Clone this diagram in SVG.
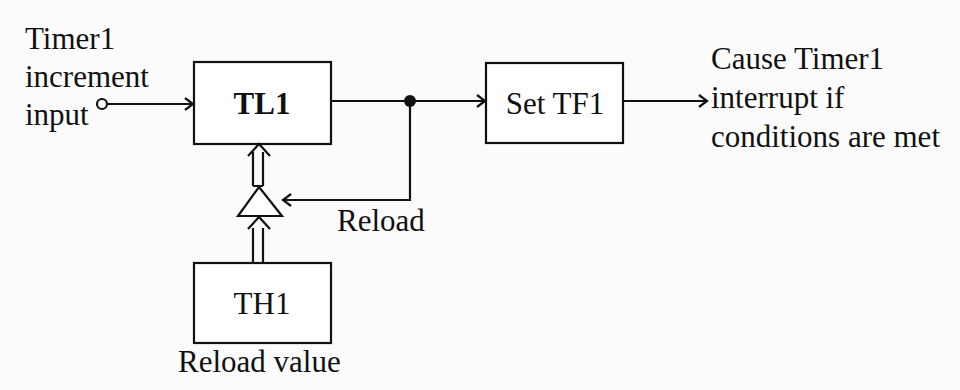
<svg xmlns="http://www.w3.org/2000/svg" width="960" height="390" viewBox="0 0 960 390">
<defs>
<style>
.ln{stroke:#111;stroke-width:2.2;fill:none}
.box{stroke:#111;stroke-width:2.2;fill:#fff}
.t{font-family:"Liberation Serif","Times New Roman",serif;font-size:31px;fill:#111}
.b{font-weight:bold}
.c{text-anchor:middle}
</style>
<marker id="ah" markerWidth="12" markerHeight="14" refX="10" refY="7" orient="auto" markerUnits="userSpaceOnUse">
<path d="M2,1 L10,7 L2,13" fill="none" stroke="#111" stroke-width="2.2"/>
</marker>
</defs>
<rect width="960" height="390" fill="#fbfbfb"/>
<g id="input-label">
<text class="t" x="25" y="49">Timer1</text>
<text class="t" x="25" y="87">increment</text>
<text class="t" x="25" y="125">input</text>
</g>
<g id="TL1">
<rect class="box" x="194" y="62" width="137" height="82"/>
<text class="t b c" x="262" y="114">TL1</text>
</g>
<g id="SetTF1">
<rect class="box" x="486" y="63" width="137" height="80"/>
<text class="t c" x="555" y="114">Set TF1</text>
</g>
<g id="TH1">
<rect class="box" x="194" y="263" width="137" height="80"/>
<text class="t c" x="262" y="314">TH1</text>
</g>
<g id="buffer">
<polygon class="box" points="259,187 282,216 238,216"/>
</g>
<g id="output-label">
<text class="t" x="711" y="69">Cause Timer1</text>
<text class="t" x="711" y="108">interrupt if</text>
<text class="t" x="711" y="147">conditions are met</text>
</g>
<g id="labels">
<text class="t" x="337" y="231">Reload</text>
<text class="t" x="178" y="372">Reload value</text>
</g>
<g id="connectors">
<circle cx="102" cy="104" r="5" fill="#fff" stroke="#111" stroke-width="2.2"/>
<line class="ln" x1="107" y1="104" x2="193" y2="104" marker-end="url(#ah)"/>
<line class="ln" x1="331" y1="101" x2="485" y2="101" marker-end="url(#ah)"/>
<circle cx="410" cy="101" r="6" fill="#111"/>
<polyline class="ln" points="410,101 410,200 283,200" marker-end="url(#ah)"/>
<line class="ln" x1="623" y1="101" x2="707" y2="101" marker-end="url(#ah)"/>
<path class="ln" d="M253,186 V152 M263,186 V152 M253,186 H263 M248,156 L259,144 L270,156"/>
<path class="ln" d="M253,262 V228 M263,262 V228 M248,229 L259,217 L270,229"/>
</g>
</svg>
